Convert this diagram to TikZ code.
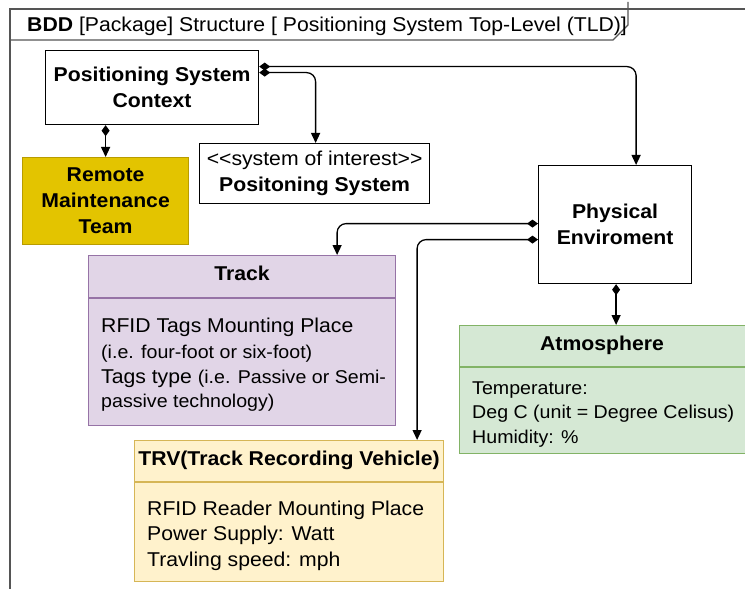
\documentclass[tikz,border=0pt]{standalone}
\usepackage{fontspec}
\setmainfont{Liberation Sans}[FakeStretch=1.06]
\usetikzlibrary{arrows.meta,calc}
\definecolor{remfill}{HTML}{E3C400}
\definecolor{remdraw}{HTML}{B89C00}
\definecolor{trkfill}{HTML}{E1D5E7}
\definecolor{trkdraw}{HTML}{9673A6}
\definecolor{atmfill}{HTML}{D5E8D4}
\definecolor{atmdraw}{HTML}{82B366}
\definecolor{trvfill}{HTML}{FFF2CC}
\definecolor{trvdraw}{HTML}{D6B656}
\definecolor{framec}{HTML}{555555}
\newcommand\fbig{\fontsize{20bp}{26bp}\selectfont}
\newcommand\fsmall{\fontsize{18.5bp}{24bp}\selectfont}
\tikzset{
  boxed/.style={draw=black, line width=1.2bp, inner sep=0pt, align=center, font=\fbig\bfseries, anchor=north west},
  classbox/.style={line width=1.2bp, inner sep=0pt, anchor=north west},
  ttl/.style={font=\fbig\bfseries, inner sep=0pt, anchor=base},
  bodytxt/.style={font=\fbig, inner sep=0pt, anchor=base west},
  conn/.style={line width=1.3bp, rounded corners=9bp, {Diamond[length=11bp,width=8bp]}-{Triangle[length=10bp,width=9bp]}},
}
\begin{document}
\begin{tikzpicture}[x=1bp,y=-1bp]
\useasboundingbox (0,0) rectangle (745,589);
% frame
\draw[framec, line width=1.4bp] (745,9) -- (10,9) -- (10,589);
\draw[framec, line width=1.2bp] (10,40) -- (613,40) -- (628,25) -- (628,2);
\node[font=\fbig, inner sep=0pt, anchor=base west] (hdr) at (27,32) {\textbf{BDD} [Package] Structure [ Positioning System Top-Level (TLD)]};

% simple blocks
\node[boxed, minimum width=213bp, minimum height=74bp] (ctx) at (45,50) {Positioning System\\Context};
\node[boxed, draw=remdraw, fill=remfill, minimum width=166bp, minimum height=87bp] (rem) at (22,157) {Remote\\Maintenance\\Team};
\node[boxed, minimum width=230bp, minimum height=60bp, font=\fbig] (sys) at (199,143) {{<}{<}system of interest{>}{>}\\\textbf{Positoning System}};
\node[boxed, minimum width=153bp, minimum height=118bp] (phys) at (538,165) {Physical\\Enviroment};

% Track
\node[classbox, draw=trkdraw, fill=trkfill, minimum width=307bp, minimum height=170bp] (trk) at (88,255) {};
\draw[trkdraw, line width=1.2bp] (trk.west |- 0,298) -- (trk.east |- 0,298);
\node[ttl] (trkt) at (242,280) {Track};
\node[bodytxt] (trk1) at (101,332) {RFID Tags Mounting Place};
\node[bodytxt, font=\fsmall] (trk2) at (101,358) {(i.e. four-foot or six-foot)};
\node[bodytxt] (trk3) at (101,383) {Tags type {\fsmall(i.e. Passive or Semi-}};
\node[bodytxt, font=\fsmall] (trk4) at (101,407) {passive technology)};

% Atmosphere
\node[classbox, draw=atmdraw, fill=atmfill, minimum width=286bp, minimum height=128bp] (atm) at (459,325) {};
\draw[atmdraw, line width=1.2bp] (atm.west |- 0,367) -- (atm.east |- 0,367);
\node[ttl] (atmt) at (602,350) {Atmosphere};
\node[bodytxt, font=\fsmall] (atm1) at (472,394) {Temperature:};
\node[bodytxt, font=\fsmall] (atm2) at (472,418) {Deg C (unit = Degree Celisus)};
\node[bodytxt, font=\fsmall] (atm3) at (472,443) {Humidity: \%};

% TRV
\node[classbox, draw=trvdraw, fill=trvfill, minimum width=309bp, minimum height=141bp] (trv) at (134,440) {};
\draw[trvdraw, line width=1.2bp] (trv.west |- 0,482) -- (trv.east |- 0,482);
\node[ttl] (trvt) at (289,465) {TRV(Track Recording Vehicle)};
\node[bodytxt] (trv1) at (147,515) {RFID Reader Mounting Place};
\node[bodytxt] (trv2) at (147,540) {Power Supply: Watt};
\node[bodytxt] (trv3) at (147,566) {Travling speed: mph};

% connectors
\draw[conn] (rem.north |- ctx.south) -- (rem.north);
\draw[conn] ([yshift=15bp]ctx.east) -| ([xshift=1bp]sys.north);
\draw[conn] ([yshift=21bp]ctx.east) -| ([xshift=21bp]phys.north);
\draw[conn] ([yshift=1bp]phys.west) -| ([xshift=95bp]trk.north);
\draw[conn] ([yshift=-15bp]phys.west) -| ([xshift=128bp]trv.north);
\draw[conn] ([xshift=1bp]phys.south) -- ([xshift=1bp]phys.south |- atm.north);
\end{tikzpicture}
\end{document}
